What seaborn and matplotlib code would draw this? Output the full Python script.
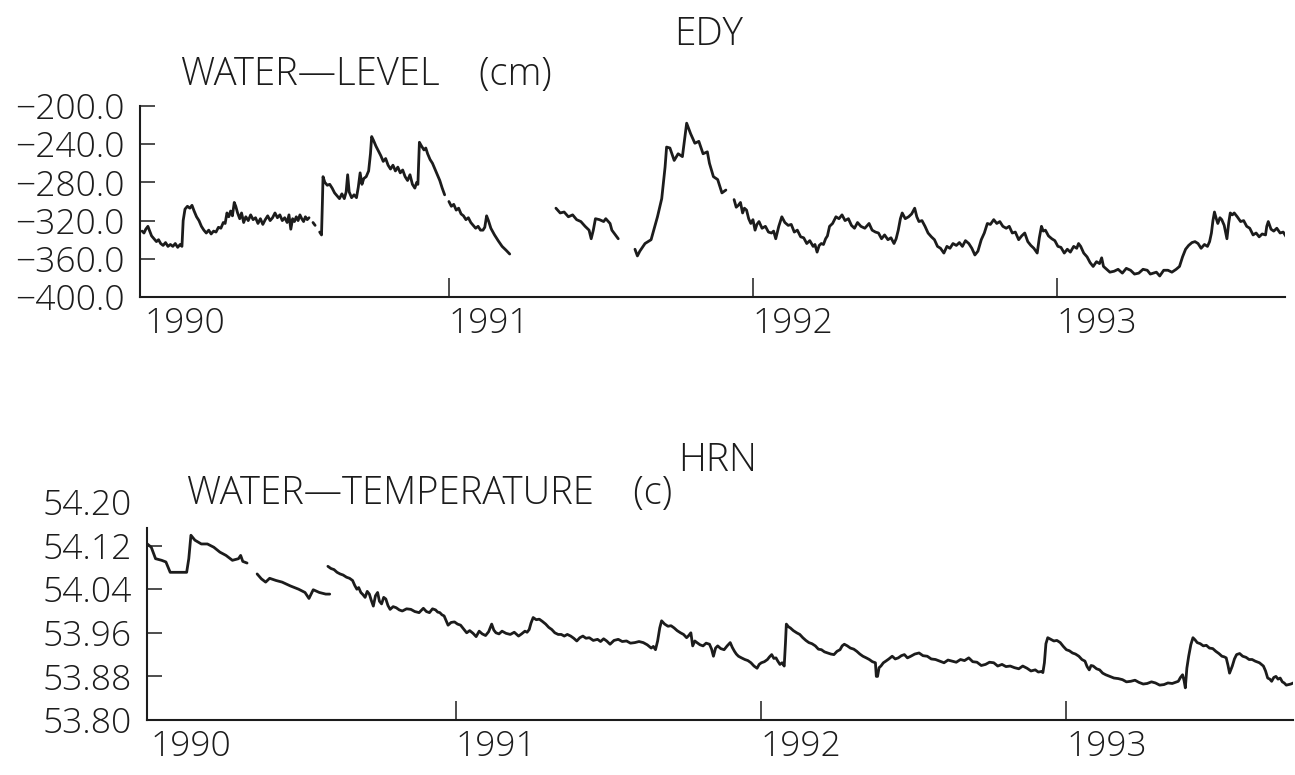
import numpy as np
import pandas as pd
import matplotlib
matplotlib.use("Agg")
import matplotlib.pyplot as plt
import seaborn as sns

NAN = float("nan")

# ---------------------------------------------------------------- EDY water level (cm)
# NaN entries mark interruptions in the record
level_year = [
    1989.991, 1989.997, 1990.003, 1990.010, 1990.016, 1990.022, 1990.030, 1990.038,
    1990.045, 1990.052, 1990.060, 1990.068, 1990.076, 1990.084, 1990.092, 1990.100,
    1990.108, 1990.116, 1990.122, 1990.126, 1990.132, 1990.140, 1990.148, 1990.155,
    1990.162, 1990.170, 1990.178, 1990.186, 1990.194, 1990.202, 1990.210, 1990.218,
    1990.226, 1990.234, 1990.242, 1990.250, 1990.258, 1990.264, 1990.270, 1990.276,
    1990.282, 1990.288, 1990.294, 1990.299, 1990.305, 1990.312, 1990.318, 1990.325,
    1990.332, 1990.340, 1990.348, 1990.356, 1990.364, 1990.372, 1990.380, 1990.388,
    1990.396, 1990.404, 1990.412, 1990.420, 1990.428, 1990.436, 1990.444, 1990.452,
    1990.460, 1990.468, 1990.474, 1990.480, 1990.486, 1990.492, 1990.498, 1990.504,
    1990.510, 1990.516, 1990.522, 1990.528, 1990.534, 1990.540, NAN,
    1990.553, 1990.560, NAN,
    1990.575, 1990.581, 1990.584, 1990.586, 1990.592, 1990.600, 1990.608, 1990.616,
    1990.624, 1990.632, 1990.640, 1990.648, 1990.656, 1990.662, 1990.667, 1990.672,
    1990.680, 1990.688, 1990.696, 1990.702, 1990.708, 1990.714, 1990.720, 1990.728,
    1990.736, 1990.742, 1990.746, 1990.752, 1990.760, 1990.768, 1990.776, 1990.784,
    1990.792, 1990.800, 1990.808, 1990.816, 1990.824, 1990.832, 1990.840, 1990.848,
    1990.856, 1990.864, 1990.872, 1990.880, 1990.888, 1990.894, 1990.898, 1990.903,
    1990.910, 1990.918, 1990.924, 1990.930, 1990.938, 1990.946, 1990.954, 1990.962,
    1990.970, 1990.978, 1990.986, NAN,
    1991.000, 1991.008, 1991.016, 1991.024, 1991.032, 1991.040, 1991.048, 1991.056,
    1991.064, 1991.072, 1991.080, 1991.088, 1991.096, 1991.104, 1991.112, 1991.118,
    1991.124, 1991.130, 1991.138, 1991.150, 1991.162, 1991.175, 1991.188, 1991.200, NAN,
    1991.352, 1991.366, 1991.379, 1991.393, 1991.407, 1991.420, 1991.434, 1991.448,
    1991.461, 1991.468, 1991.475, 1991.482, 1991.495, 1991.509, 1991.516, 1991.530,
    1991.536, 1991.557, NAN,
    1991.612, 1991.620, 1991.628, 1991.645, 1991.665, 1991.686, 1991.700, 1991.711,
    1991.716, 1991.727, 1991.741, 1991.754, 1991.768, 1991.782, 1991.795, 1991.809,
    1991.822, 1991.836, 1991.850, 1991.857, 1991.870, 1991.884, 1991.898, 1991.911, NAN,
    1991.938, 1991.945, 1991.952, 1991.959, 1991.966, 1991.972, 1991.979, 1991.986,
    1991.993, 1992.000, 1992.007, 1992.013, 1992.020, 1992.030, 1992.041, 1992.051,
    1992.061, 1992.068, 1992.075, 1992.085, 1992.095, 1992.105, 1992.116, 1992.126,
    1992.136, 1992.146, 1992.157, 1992.167, 1992.177, 1992.187, 1992.198, 1992.204,
    1992.211, 1992.218, 1992.225, 1992.232, 1992.239, 1992.245, 1992.252, 1992.262,
    1992.273, 1992.283, 1992.293, 1992.303, 1992.314, 1992.324, 1992.334, 1992.344,
    1992.355, 1992.368, 1992.382, 1992.392, 1992.403, 1992.413, 1992.423, 1992.433,
    1992.444, 1992.454, 1992.464, 1992.471, 1992.478, 1992.485, 1992.491, 1992.501,
    1992.512, 1992.522, 1992.532, 1992.539, 1992.546, 1992.556, 1992.566, 1992.576,
    1992.587, 1992.597, 1992.607, 1992.617, 1992.628, 1992.638, 1992.648, 1992.658,
    1992.669, 1992.679, 1992.689, 1992.699, 1992.710, 1992.720, 1992.730, 1992.740,
    1992.751, 1992.761, 1992.771, 1992.781, 1992.792, 1992.802, 1992.812, 1992.822,
    1992.833, 1992.843, 1992.853, 1992.863, 1992.874, 1992.884, 1992.894, 1992.904,
    1992.914, 1992.924, 1992.935, 1992.942, 1992.949, 1992.955, 1992.962, 1992.972,
    1992.983, 1992.993, 1993.003, 1993.013, 1993.024, 1993.034, 1993.044, 1993.055,
    1993.065, 1993.071, 1993.078, 1993.088, 1993.099, 1993.109, 1993.119, 1993.130,
    1993.140, 1993.147, 1993.153, 1993.160, 1993.174, 1993.188, 1993.201, 1993.215,
    1993.228, 1993.242, 1993.255, 1993.269, 1993.283, 1993.297, 1993.307, 1993.317,
    1993.327, 1993.338, 1993.351, 1993.365, 1993.378, 1993.392, 1993.403, 1993.413,
    1993.423, 1993.433, 1993.444, 1993.454, 1993.464, 1993.474, 1993.485, 1993.495,
    1993.502, 1993.508, 1993.513, 1993.518, 1993.524, 1993.529, 1993.536, 1993.542,
    1993.550, 1993.559, 1993.565, 1993.570, 1993.577, 1993.583, 1993.593, 1993.604,
    1993.614, 1993.624, 1993.634, 1993.645, 1993.655, 1993.665, 1993.675, 1993.686,
    1993.690, 1993.695, 1993.704, 1993.713, 1993.723, 1993.734, 1993.744, 1993.754,
]
level_cm = [
    -331, -333, -329, -326, -331, -336, -339, -342,
    -340, -344, -346, -343, -347, -345, -347, -344,
    -348, -345, -347, -320, -308, -305, -307, -304,
    -310, -316, -320, -326, -330, -333, -330, -334,
    -331, -332, -327, -328, -322, -323, -312, -316,
    -310, -315, -301, -305, -312, -318, -312, -322,
    -316, -320, -314, -319, -317, -323, -318, -324,
    -319, -315, -320, -317, -312, -317, -314, -320,
    -317, -322, -314, -329, -318, -321, -316, -320,
    -314, -318, -321, -316, -319, -317, NAN,
    -322, -325, NAN,
    -332, -335, -300, -274, -280, -283, -282, -286,
    -291, -294, -297, -292, -297, -290, -272, -290,
    -296, -293, -296, -285, -270, -282, -276, -274,
    -268, -250, -232, -236, -242, -247, -252, -258,
    -255, -262, -266, -262, -268, -264, -270, -267,
    -274, -278, -272, -282, -286, -280, -282, -238,
    -242, -246, -244, -250, -256, -260, -266, -272,
    -278, -286, -293, NAN,
    -300, -305, -303, -309, -307, -313, -315, -319,
    -317, -322, -325, -328, -326, -330, -330, -327,
    -315, -320, -328, -335, -341, -347, -351, -355, NAN,
    -307, -312, -311, -316, -314, -319, -321, -326,
    -330, -339, -330, -318, -319, -321, -318, -323,
    -330, -339, NAN,
    -350, -357, -352, -344, -340, -316, -297, -264,
    -243, -244, -257, -250, -253, -218, -229, -239,
    -237, -250, -248, -260, -274, -277, -291, -288, NAN,
    -298, -306, -304, -301, -312, -307, -309, -318,
    -323, -319, -330, -324, -321, -328, -326, -332,
    -333, -331, -339, -326, -316, -322, -325, -324,
    -332, -330, -337, -338, -344, -341, -347, -345,
    -353, -346, -344, -345, -339, -336, -326, -323,
    -316, -318, -314, -320, -318, -325, -328, -322,
    -326, -328, -323, -330, -332, -333, -339, -335,
    -340, -338, -344, -339, -330, -318, -312, -318,
    -316, -313, -307, -316, -321, -320, -326, -333,
    -337, -340, -347, -349, -354, -347, -349, -344,
    -346, -343, -347, -341, -344, -349, -356, -352,
    -340, -333, -323, -324, -319, -323, -321, -326,
    -328, -326, -333, -332, -340, -336, -333, -342,
    -346, -349, -354, -338, -326, -331, -330, -336,
    -339, -341, -347, -348, -354, -350, -353, -347,
    -349, -344, -347, -354, -358, -364, -368, -363,
    -365, -359, -368, -370, -374, -373, -371, -375,
    -370, -372, -376, -375, -371, -372, -376, -375,
    -374, -378, -372, -372, -374, -371, -368, -358,
    -350, -346, -343, -342, -344, -349, -345, -347,
    -342, -333, -320, -311, -318, -323, -317, -319,
    -325, -339, -322, -312, -314, -312, -316, -321,
    -320, -326, -328, -335, -333, -337, -334, -335,
    -326, -321, -329, -331, -328, -333, -332, -337,
]

# ---------------------------------------------------------------- HRN water temperature (c)
temp_year = [
    1989.988, 1990.001, 1990.015, 1990.035, 1990.049, 1990.063, 1990.090, 1990.117,
    1990.124, 1990.131, 1990.144, 1990.165, 1990.185, 1990.206, 1990.226, 1990.246,
    1990.267, 1990.287, 1990.294, 1990.301, 1990.315, NAN,
    1990.348, 1990.362, 1990.376, 1990.389, 1990.410, 1990.430, 1990.457, 1990.484,
    1990.505, 1990.518, 1990.532, 1990.552, 1990.573, 1990.586, NAN,
    1990.580, 1990.590, 1990.600, 1990.610, 1990.620, 1990.630, 1990.641, 1990.651,
    1990.661, 1990.668, 1990.675, 1990.681, 1990.688, 1990.695, 1990.702, 1990.709,
    1990.716, 1990.722, 1990.729, 1990.736, 1990.743, 1990.749, 1990.756, 1990.763,
    1990.770, 1990.777, 1990.784, 1990.794, 1990.804, 1990.814, 1990.824, 1990.838,
    1990.852, 1990.865, 1990.879, 1990.886, 1990.893, 1990.903, 1990.913, 1990.923,
    1990.933, 1990.940, 1990.947, 1990.954, 1990.961, 1990.967, 1990.974, 1990.984,
    1990.995, 1991.005, 1991.015, 1991.025, 1991.035, 1991.045, 1991.056, 1991.066,
    1991.076, 1991.086, 1991.097, 1991.107, 1991.117, 1991.124, 1991.131, 1991.141,
    1991.151, 1991.164, 1991.178, 1991.191, 1991.205, 1991.215, 1991.226, 1991.233,
    1991.240, 1991.246, 1991.253, 1991.263, 1991.273, 1991.283, 1991.294, 1991.304,
    1991.314, 1991.324, 1991.335, 1991.345, 1991.355, 1991.365, 1991.376, 1991.386,
    1991.396, 1991.406, 1991.416, 1991.426, 1991.437, 1991.450, 1991.464, 1991.474,
    1991.484, 1991.494, 1991.505, 1991.518, 1991.532, 1991.545, 1991.559, 1991.572,
    1991.586, 1991.600, 1991.614, 1991.627, 1991.640, 1991.647, 1991.654, 1991.661,
    1991.668, 1991.674, 1991.684, 1991.695, 1991.705, 1991.715, 1991.725, 1991.736,
    1991.746, 1991.756, 1991.763, 1991.770, 1991.776, 1991.783, 1991.790, 1991.800,
    1991.810, 1991.820, 1991.831, 1991.838, 1991.844, 1991.851, 1991.858, 1991.868,
    1991.879, 1991.889, 1991.899, 1991.906, 1991.913, 1991.919, 1991.926, 1991.936,
    1991.947, 1991.957, 1991.967, 1991.977, 1991.987, 1991.994, 1992.001, 1992.011,
    1992.021, 1992.028, 1992.035, 1992.042, 1992.049, 1992.055, 1992.062, 1992.069,
    1992.076, 1992.080, 1992.083, 1992.090, 1992.096, 1992.106, 1992.117, 1992.127,
    1992.137, 1992.147, 1992.157, 1992.167, 1992.178, 1992.188, 1992.198, 1992.208,
    1992.219, 1992.229, 1992.239, 1992.249, 1992.259, 1992.266, 1992.273, 1992.283,
    1992.293, 1992.304, 1992.314, 1992.324, 1992.334, 1992.345, 1992.355, 1992.365,
    1992.375, 1992.378, 1992.382, 1992.387, 1992.393, 1992.401, 1992.409, 1992.419,
    1992.430, 1992.440, 1992.450, 1992.460, 1992.470, 1992.480, 1992.491, 1992.504,
    1992.518, 1992.531, 1992.545, 1992.558, 1992.572, 1992.586, 1992.600, 1992.613,
    1992.627, 1992.640, 1992.654, 1992.667, 1992.681, 1992.694, 1992.708, 1992.722,
    1992.736, 1992.749, 1992.763, 1992.776, 1992.790, 1992.803, 1992.817, 1992.831,
    1992.845, 1992.858, 1992.872, 1992.885, 1992.899, 1992.909, 1992.919, 1992.924,
    1992.929, 1992.934, 1992.940, 1992.950, 1992.960, 1992.970, 1992.981, 1992.991,
    1993.001, 1993.011, 1993.021, 1993.031, 1993.042, 1993.052, 1993.062, 1993.069,
    1993.076, 1993.082, 1993.089, 1993.100, 1993.110, 1993.120, 1993.130, 1993.144,
    1993.157, 1993.171, 1993.185, 1993.198, 1993.212, 1993.226, 1993.239, 1993.253,
    1993.266, 1993.280, 1993.293, 1993.307, 1993.321, 1993.334, 1993.348, 1993.358,
    1993.368, 1993.375, 1993.382, 1993.387, 1993.391, 1993.396, 1993.402, 1993.409,
    1993.416, 1993.423, 1993.430, 1993.440, 1993.450, 1993.460, 1993.470, 1993.481,
    1993.491, 1993.501, 1993.511, 1993.518, 1993.525, 1993.531, 1993.536, 1993.541,
    1993.545, 1993.552, 1993.559, 1993.569, 1993.579, 1993.590, 1993.600, 1993.610,
    1993.620, 1993.634, 1993.647, 1993.654, 1993.661, 1993.668, 1993.674, 1993.681,
    1993.688, 1993.695, 1993.702, 1993.709, 1993.715, 1993.722, 1993.729, 1993.737,
    1993.745,
]
temp_c = [
    54.123, 54.117, 54.096, 54.093, 54.090, 54.071, 54.071, 54.071,
    54.096, 54.139, 54.130, 54.123, 54.123, 54.117, 54.108, 54.102,
    54.093, 54.096, 54.102, 54.091, 54.088, NAN,
    54.068, 54.059, 54.053, 54.060, 54.056, 54.053, 54.046, 54.040,
    54.034, 54.023, 54.039, 54.034, 54.031, 54.031, NAN,
    54.082, 54.078, 54.076, 54.071, 54.068, 54.066, 54.062, 54.060,
    54.056, 54.047, 54.040, 54.043, 54.034, 54.030, 54.025, 54.036,
    54.031, 54.020, 54.009, 54.028, 54.034, 54.018, 54.013, 54.025,
    54.022, 54.010, 54.003, 54.008, 54.006, 54.002, 54.000, 54.004,
    54.003, 53.999, 53.997, 54.001, 54.005, 53.999, 53.997, 54.004,
    54.002, 53.998, 53.997, 53.993, 53.991, 53.983, 53.974, 53.979,
    53.980, 53.976, 53.974, 53.967, 53.960, 53.964, 53.959, 53.953,
    53.963, 53.958, 53.955, 53.962, 53.976, 53.965, 53.960, 53.958,
    53.963, 53.959, 53.957, 53.961, 53.954, 53.958, 53.963, 53.961,
    53.966, 53.978, 53.988, 53.984, 53.985, 53.981, 53.976, 53.970,
    53.966, 53.960, 53.957, 53.957, 53.954, 53.957, 53.954, 53.950,
    53.945, 53.951, 53.954, 53.950, 53.951, 53.946, 53.948, 53.944,
    53.949, 53.945, 53.939, 53.946, 53.948, 53.944, 53.945, 53.941,
    53.942, 53.944, 53.942, 53.938, 53.932, 53.935, 53.929, 53.945,
    53.969, 53.982, 53.976, 53.972, 53.973, 53.969, 53.964, 53.960,
    53.957, 53.951, 53.955, 53.960, 53.936, 53.945, 53.942, 53.938,
    53.936, 53.941, 53.939, 53.930, 53.917, 53.932, 53.936, 53.931,
    53.929, 53.936, 53.942, 53.933, 53.926, 53.921, 53.917, 53.914,
    53.911, 53.909, 53.905, 53.899, 53.895, 53.902, 53.905, 53.907,
    53.911, 53.916, 53.920, 53.913, 53.914, 53.908, 53.902, 53.905,
    53.899, 53.940, 53.976, 53.971, 53.969, 53.964, 53.960, 53.957,
    53.951, 53.946, 53.942, 53.940, 53.936, 53.930, 53.929, 53.925,
    53.923, 53.921, 53.920, 53.926, 53.929, 53.936, 53.939, 53.936,
    53.932, 53.930, 53.926, 53.921, 53.917, 53.914, 53.911, 53.907,
    53.905, 53.880, 53.880, 53.896, 53.899, 53.905, 53.908, 53.912,
    53.917, 53.912, 53.914, 53.918, 53.920, 53.914, 53.917, 53.921,
    53.923, 53.918, 53.917, 53.912, 53.911, 53.908, 53.905, 53.910,
    53.908, 53.906, 53.911, 53.909, 53.914, 53.907, 53.906, 53.900,
    53.902, 53.906, 53.905, 53.899, 53.902, 53.898, 53.899, 53.896,
    53.894, 53.899, 53.895, 53.890, 53.892, 53.888, 53.889, 53.887,
    53.905, 53.940, 53.951, 53.948, 53.945, 53.946, 53.942, 53.935,
    53.929, 53.927, 53.923, 53.921, 53.917, 53.911, 53.908, 53.898,
    53.892, 53.900, 53.899, 53.894, 53.892, 53.886, 53.883, 53.880,
    53.877, 53.876, 53.874, 53.870, 53.871, 53.873, 53.869, 53.866,
    53.867, 53.870, 53.868, 53.864, 53.865, 53.868, 53.867, 53.869,
    53.871, 53.878, 53.883, 53.872, 53.859, 53.895, 53.917, 53.938,
    53.951, 53.947, 53.942, 53.940, 53.936, 53.937, 53.932, 53.931,
    53.926, 53.922, 53.917, 53.916, 53.914, 53.900, 53.886, 53.893,
    53.899, 53.912, 53.920, 53.922, 53.917, 53.915, 53.911, 53.911,
    53.908, 53.905, 53.899, 53.890, 53.877, 53.875, 53.871, 53.878,
    53.880, 53.875, 53.877, 53.870, 53.868, 53.864, 53.865, 53.866,
    53.868,
]

# ---------------------------------------------------------------- axis ticks
year_ticks = [1990, 1991, 1992, 1993]
level_ticks = [-400.0, -360.0, -320.0, -280.0, -240.0, -200.0]
temp_ticks = [53.80, 53.88, 53.96, 54.04, 54.12, 54.20]


def to_frame(years, values):
    df = pd.DataFrame({"year": years, "value": values})
    gap = df["value"].isna()
    df["run"] = gap.cumsum()
    return df[~gap].reset_index(drop=True)


sns.set_style("ticks")
plt.rcParams["font.family"] = ["Open Sans", "DejaVu Sans"]
plt.rcParams["font.weight"] = "light"
plt.rcParams["axes.unicode_minus"] = True

INK = "#1c1c1c"
W, H = 1295, 775
fig = plt.figure(figsize=(W / 100, H / 100), dpi=100)
fig.patch.set_facecolor("white")


def px_axes(left, right, top, bottom):
    return fig.add_axes([left / W, 1 - bottom / H, (right - left) / W, (bottom - top) / H])


ax1 = px_axes(140, 1285, 106, 297)
ax2 = px_axes(147, 1293, 502, 720)

panels = [
    (ax1, to_frame(level_year, level_cm), (1989.984, 1993.750), (-400, -200),
     level_ticks, "{:.1f}", -200),
    (ax2, to_frame(temp_year, temp_c), (1989.987, 1993.744), (53.80, 54.20),
     temp_ticks, "{:.2f}", 54.153),
]

for ax, df, xl, yl, yt, fmt, ytop in panels:
    sns.lineplot(data=df, x="year", y="value", units="run", estimator=None,
                 color=INK, linewidth=2.0, ax=ax, legend=False)
    ax.set_xlim(*xl)
    ax.set_ylim(*yl)
    ax.set_xlabel("")
    ax.set_ylabel("")
    ax.set_facecolor("white")
    for side in ("top", "right"):
        ax.spines[side].set_visible(False)
    for side in ("left", "bottom"):
        ax.spines[side].set_linewidth(1.5)
        ax.spines[side].set_color(INK)
    ax.spines["left"].set_bounds(yl[0], ytop)

    ax.set_xticks(year_ticks)
    ax.set_xticklabels([str(y) for y in year_ticks])
    ax.set_yticks(yt)
    ax.set_yticklabels([fmt.format(v).replace("-", "\u2212") for v in yt])
    ax.tick_params(axis="x", direction="in", length=13.5, width=1.1, pad=7,
                   labelsize=25.5, colors=INK)
    ax.tick_params(axis="y", direction="in", length=10.5, width=1.1, pad=11,
                   labelsize=25.5, colors=INK)
    for lab in ax.get_xticklabels():
        lab.set_horizontalalignment("left")
    # the first year tick sits on the vertical axis line
    ax.xaxis.get_major_ticks()[0].tick1line.set_visible(False)

# the top temperature label has no tick mark, the axis line stops below it
ax2.yaxis.get_major_ticks()[-1].tick1line.set_visible(False)


def label(x, y, s, size=27.5):
    fig.text(x / W, 1 - y / H, s, ha="left", va="center", fontsize=size, color=INK)


label(674, 35, "EDY", 28)
label(181, 75, "WATER\u2014LEVEL    (cm)")
label(678, 461, "HRN", 28)
label(187, 494, "WATER\u2014TEMPERATURE    (c)")

fig.savefig("out.png", dpi=100, facecolor="white")
